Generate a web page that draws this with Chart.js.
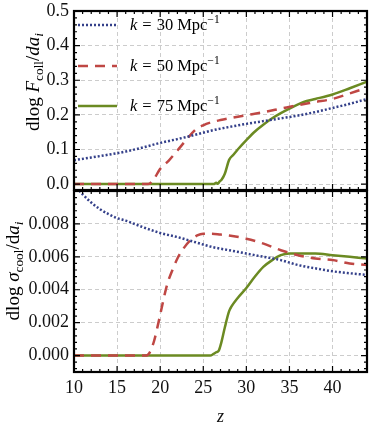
<!DOCTYPE html>
<html>
<head>
<meta charset="utf-8">
<script src="https://cdn.jsdelivr.net/npm/chart.js@4.4.0/dist/chart.umd.min.js"></script>
<style>
    body { margin: 0; background: #fff; }
    #wrap { position: relative; width: 382px; height: 425px; }
    canvas { position: absolute; left: 0; }
</style>
</head>
<body>
<div id="wrap">
    <canvas id="fcoll" width="382" height="191" style="top:0px"></canvas>
    <canvas id="scool" width="382" height="235" style="top:190px"></canvas>
</div>
<script>
// k values for the legend
const kLabels = ['30', '50', '75']

// axis ticks
const zTicks = [10, 15, 20, 25, 30, 35, 40]
const fTicks = [0.0, 0.1, 0.2, 0.3, 0.4, 0.5]
const sTicks = [0.000, 0.002, 0.004, 0.006, 0.008]

// top panel: dlog F_coll / da_i
const fz30 = [10, 12, 14, 16, 18, 20, 22, 24, 26, 28, 30, 32, 34, 36, 38, 40, 42, 44]
const f30 = [0.069, 0.077, 0.085, 0.094, 0.106, 0.119, 0.130, 0.142, 0.155, 0.165, 0.174, 0.182, 0.190, 0.198, 0.208, 0.220, 0.232, 0.246]

const fz50 = [10, 18.6, 19.2, 20, 21, 22, 23, 24, 25, 26, 27, 28, 30, 32, 34, 36, 38, 40, 42, 44]
const f50 = [0, 0, 0.012, 0.044, 0.068, 0.097, 0.127, 0.155, 0.170, 0.179, 0.185, 0.190, 0.199, 0.208, 0.218, 0.228, 0.237, 0.246, 0.262, 0.278]

const fz75 = [10, 26.2, 26.5, 26.7, 26.9, 27.1, 27.5, 28, 28.5, 29, 30, 31, 32, 33, 34, 35, 36, 37, 38, 40, 42, 44]
const f75 = [0, 0, 0.004, 0.001, 0.008, 0.012, 0.030, 0.070, 0.085, 0.100, 0.127, 0.152, 0.172, 0.190, 0.205, 0.218, 0.230, 0.240, 0.246, 0.259, 0.277, 0.296]

// bottom panel: dlog sigma_cool / da_i
const sz30 = [10, 11, 12, 13, 14, 15, 16, 18, 20, 22, 24, 26, 28, 30, 32, 34, 36, 38, 40, 42, 44]
const s30 = [0.0104, 0.0098, 0.0093, 0.0089, 0.0086, 0.00835, 0.0082, 0.0078, 0.00745, 0.0072, 0.0069, 0.0066, 0.0064, 0.0062, 0.0060, 0.0058, 0.0055, 0.0053, 0.00512, 0.0050, 0.0049]

const sz50 = [10, 18.3, 18.8, 19.3, 19.8, 20.3, 20.8, 21.5, 22, 22.7, 23.5, 24.3, 25, 26, 27, 28, 30, 32, 34, 36, 38, 40, 42, 44]
const s50 = [0, 0, 0.0002, 0.0009, 0.0020, 0.0032, 0.0043, 0.0053, 0.0059, 0.0065, 0.0070, 0.0073, 0.0074, 0.0074, 0.00735, 0.0073, 0.0071, 0.0068, 0.0064, 0.0061, 0.0059, 0.0058, 0.0056, 0.0055]

const sz75 = [10, 25.8, 26.2, 26.5, 26.8, 27.1, 27.5, 28, 28.3, 29, 30, 31, 32, 33, 34, 35, 36, 37, 38, 40, 42, 44]
const s75 = [0, 0, 0.0001, 0.0002, 0.0003, 0.0008, 0.0017, 0.0027, 0.0030, 0.0035, 0.0041, 0.0048, 0.0054, 0.0058, 0.0061, 0.0062, 0.0062, 0.0062, 0.0062, 0.0061, 0.0060, 0.0059]

const blue = '#34408a'
const red = '#bf4744'
const green = '#6b8a22'
const serif = '"Liberation Serif", serif'

var zip = function(xs, ys){
    return xs.map(function(x, i){ return {x: x, y: ys[i]} })
}

var makeSets = function(a, b, c){
    return [
        {data: a, borderColor: blue, borderDash: [2, 2], borderWidth: 2.5},
        {data: b, borderColor: red, borderDash: [10, 7], borderWidth: 2.5},
        {data: c, borderColor: green, borderWidth: 2.5}
    ].map(function(d){
        d.pointRadius = 0
        d.fill = false
        d.cubicInterpolationMode = 'monotone'
        return d
    })
}

// text with italic / sub / superscript parts
var fontOf = function(p, size){
    var s = (p.sub || p.sup) ? size * 0.7 : size
    return (p.it ? 'italic ' : '') + s + 'px ' + serif
}
var drawRich = function(ctx, parts, x, y, size, rotate){
    ctx.save()
    ctx.translate(x, y)
    if (rotate) ctx.rotate(-Math.PI / 2)
    ctx.fillStyle = '#000'
    ctx.textBaseline = 'alphabetic'
    ctx.textAlign = 'left'
    var total = 0
    parts.forEach(function(p){
        ctx.font = fontOf(p, size)
        p.w = ctx.measureText(p.t).width
        total += p.w + (p.gap || 0)
    })
    var cx = rotate ? -total / 2 : 0
    parts.forEach(function(p){
        ctx.font = fontOf(p, size)
        var dy = p.sub ? size * 0.22 : (p.sup ? -size * 0.4 : 0)
        ctx.fillText(p.t, cx, dy)
        cx += p.w + (p.gap || 0)
    })
    ctx.restore()
}

// frame with inward ticks on all four sides, plus the y title
var framePlugin = function(yStep, title, titleX, titleY){
    return {
        id: 'frame',
        afterDraw: function(chart){
            var ctx = chart.ctx
            var a = chart.chartArea
            var xs = chart.scales.x
            var ys = chart.scales.y
            ctx.save()
            ctx.strokeStyle = '#000'
            ctx.lineWidth = 1.2
            ctx.beginPath()
            for (var z = 10; z <= 44; z++) {
                var px = xs.getPixelForValue(z)
                var len = z % 5 === 0 ? 6 : 3
                ctx.moveTo(px, a.bottom); ctx.lineTo(px, a.bottom - len)
                ctx.moveTo(px, a.top); ctx.lineTo(px, a.top + len)
            }
            var i0 = Math.ceil(ys.min / yStep - 1e-6)
            var i1 = Math.floor(ys.max / yStep + 1e-6)
            for (var i = i0; i <= i1; i++) {
                var py = ys.getPixelForValue(i * yStep)
                var l = i % 5 === 0 ? 6 : 3
                ctx.moveTo(a.left, py); ctx.lineTo(a.left + l, py)
                ctx.moveTo(a.right, py); ctx.lineTo(a.right - l, py)
            }
            ctx.stroke()
            ctx.lineWidth = 2.2
            ctx.strokeRect(a.left, a.top, a.right - a.left, a.bottom - a.top)
            ctx.restore()
            drawRich(ctx, title, titleX, titleY, 19, true)
        }
    }
}

var legendPlugin = {
    id: 'kLegend',
    afterDraw: function(chart){
        var ctx = chart.ctx
        var rows = [25, 66, 106]
        chart.data.datasets.forEach(function(d, i){
            ctx.save()
            ctx.strokeStyle = d.borderColor
            ctx.lineWidth = d.borderWidth
            ctx.setLineDash(d.borderDash || [])
            ctx.beginPath()
            ctx.moveTo(78, rows[i])
            ctx.lineTo(117, rows[i])
            ctx.stroke()
            ctx.restore()
            drawRich(ctx, [
                {t: 'k', it: 1, gap: 5},
                {t: '=', gap: 5},
                {t: kLabels[i], gap: 4},
                {t: 'Mpc'},
                {t: '\u22121', sup: 1}
            ], 130, rows[i] + 5, 16.5, false)
        })
    }
}

var gridOpts = {color: '#cccccc', lineWidth: 1, drawTicks: false}
var borderOpts = {display: false, dash: [4, 3]}

var xAxis = function(showLabels){
    return {
        type: 'linear', min: 10, max: 44,
        afterBuildTicks: function(s){ s.ticks = zTicks.map(function(v){ return {value: v} }) },
        afterFit: function(s){
            s.height = showLabels ? 53 : 0
            s.paddingLeft = 0; s.paddingRight = 0
            s.paddingTop = 0; s.paddingBottom = 0
        },
        ticks: {display: showLabels, padding: 5, color: '#111', font: {family: serif, size: 18}},
        grid: gridOpts,
        border: borderOpts,
        title: {display: showLabels, text: 'z', color: '#111', padding: {top: 0, bottom: 0},
            font: {family: serif, size: 18, style: 'italic', lineHeight: 0.9}}
    }
}

var yAxis = function(min, max, ticks, digits){
    return {
        min: min, max: max,
        afterBuildTicks: function(s){ s.ticks = ticks.map(function(v){ return {value: v} }) },
        afterFit: function(s){
            s.width = 74
            s.paddingTop = 0; s.paddingBottom = 0
            s.paddingLeft = 0; s.paddingRight = 0
        },
        ticks: {padding: 5, color: '#111', font: {family: serif, size: 18},
            callback: function(v){ return v.toFixed(digits) }},
        grid: gridOpts,
        border: borderOpts
    }
}

const topConfig = {
    type: 'line',
    data: {datasets: makeSets(zip(fz30, f30), zip(fz50, f50), zip(fz75, f75))},
    options: {
        responsive: false,
        animation: false,
        layout: {padding: {top: 11, right: 15, bottom: 1, left: 0}},
        plugins: {legend: {display: false}, tooltip: {enabled: false}},
        scales: {x: xAxis(false), y: yAxis(-0.017, 0.5, fTicks, 1)}
    },
    plugins: [
        framePlugin(0.02, [{t: 'dlog '}, {t: 'F', it: 1}, {t: 'coll', sub: 1}, {t: '/'}, {t: 'da', it: 1}, {t: 'i', it: 1, sub: 1}], 39, 82),
        legendPlugin
    ]
}

const bottomConfig = {
    type: 'line',
    data: {datasets: makeSets(zip(sz30, s30), zip(sz50, s50), zip(sz75, s75))},
    options: {
        responsive: false,
        animation: false,
        layout: {padding: {top: 1, right: 15, bottom: 0, left: 0}},
        plugins: {legend: {display: false}, tooltip: {enabled: false}},
        scales: {x: xAxis(true), y: yAxis(-0.001, 0.01, sTicks, 3)}
    },
    plugins: [
        framePlugin(0.0004, [{t: 'dlog '}, {t: '\u03c3', it: 1}, {t: 'cool', sub: 1}, {t: '/d'}, {t: 'a', it: 1}, {t: 'i', it: 1, sub: 1}], 19, 81)
    ]
}

new Chart(document.getElementById('fcoll'), topConfig)
new Chart(document.getElementById('scool'), bottomConfig)
</script>
</body>
</html>
